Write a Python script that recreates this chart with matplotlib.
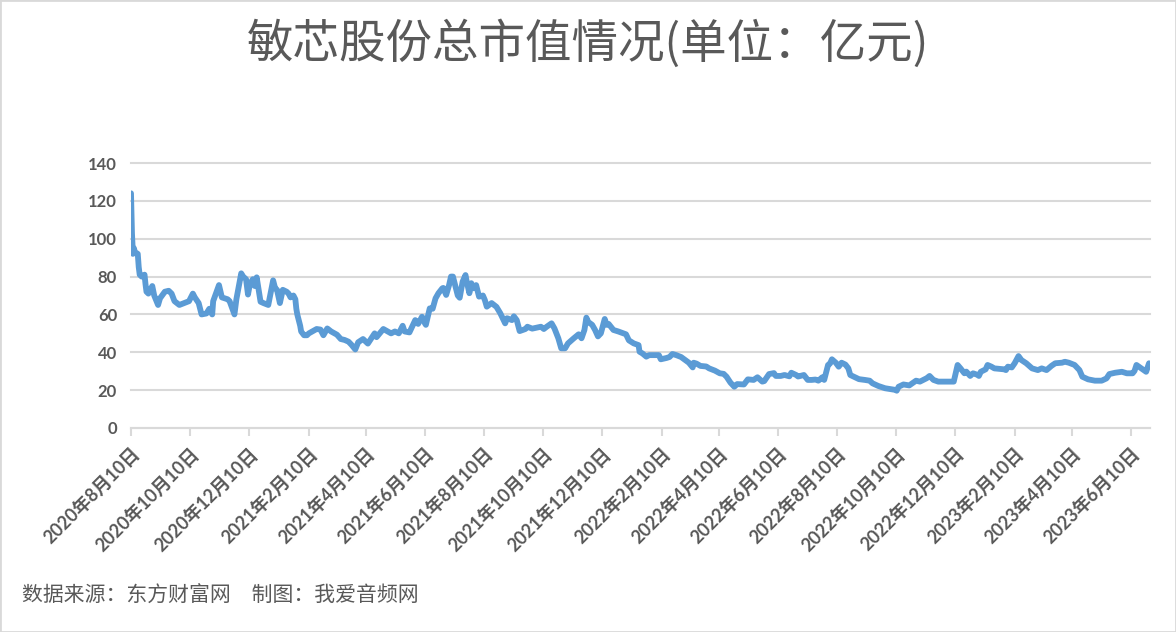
import matplotlib
matplotlib.use("Agg")
import matplotlib.pyplot as plt
from matplotlib.patches import Rectangle
import pandas as pd

plt.rcParams['font.family'] = ['Lato', 'Noto Sans CJK SC', 'DejaVu Sans']

title = "敏芯股份总市值情况(单位：亿元)"
source_note = "数据来源：东方财富网\u3000制图：我爱音频网"

dates = [
    "2020-08-10", "2020-08-11", "2020-08-12", "2020-08-13", "2020-08-14", "2020-08-17",
    "2020-08-18", "2020-08-19", "2020-08-21", "2020-08-24", "2020-08-25", "2020-08-26",
    "2020-08-28", "2020-08-31", "2020-09-01", "2020-09-03", "2020-09-07", "2020-09-09",
    "2020-09-14", "2020-09-18", "2020-09-21", "2020-09-24", "2020-09-29", "2020-10-09",
    "2020-10-12", "2020-10-13", "2020-10-15", "2020-10-19", "2020-10-22", "2020-10-27",
    "2020-10-30", "2020-11-02", "2020-11-03", "2020-11-09", "2020-11-12", "2020-11-18",
    "2020-11-20", "2020-11-25", "2020-11-27", "2020-12-02", "2020-12-04", "2020-12-07",
    "2020-12-09", "2020-12-11", "2020-12-14", "2020-12-16", "2020-12-18", "2020-12-22",
    "2020-12-25", "2020-12-30",
    "2021-01-04", "2021-01-06", "2021-01-08", "2021-01-11", "2021-01-14", "2021-01-18",
    "2021-01-20", "2021-01-22", "2021-01-25", "2021-01-27", "2021-01-28", "2021-01-29",
    "2021-02-01", "2021-02-02", "2021-02-05", "2021-02-08", "2021-02-10", "2021-02-18",
    "2021-02-22", "2021-02-25", "2021-03-01", "2021-03-05", "2021-03-11", "2021-03-15",
    "2021-03-19", "2021-03-23", "2021-03-26", "2021-03-30", "2021-04-02", "2021-04-07",
    "2021-04-12", "2021-04-19", "2021-04-21", "2021-04-28", "2021-05-06", "2021-05-10",
    "2021-05-14", "2021-05-18", "2021-05-20", "2021-05-25", "2021-05-31", "2021-06-03",
    "2021-06-07", "2021-06-10", "2021-06-11", "2021-06-15", "2021-06-18", "2021-06-21",
    "2021-06-24", "2021-06-28", "2021-06-29", "2021-07-02", "2021-07-05", "2021-07-07",
    "2021-07-09", "2021-07-12", "2021-07-14", "2021-07-16", "2021-07-19", "2021-07-22",
    "2021-07-23", "2021-07-26", "2021-07-28", "2021-07-30", "2021-08-02", "2021-08-05",
    "2021-08-09", "2021-08-11", "2021-08-13", "2021-08-18", "2021-08-23", "2021-08-27",
    "2021-09-01", "2021-09-03", "2021-09-08", "2021-09-10", "2021-09-13", "2021-09-16",
    "2021-09-22", "2021-09-24", "2021-09-29", "2021-10-08", "2021-10-11", "2021-10-14",
    "2021-10-19", "2021-10-22", "2021-10-26", "2021-10-29", "2021-11-02", "2021-11-05",
    "2021-11-11", "2021-11-16", "2021-11-19", "2021-11-22", "2021-11-24", "2021-11-26",
    "2021-11-30", "2021-12-03", "2021-12-06", "2021-12-09", "2021-12-13", "2021-12-15",
    "2021-12-17", "2021-12-22", "2021-12-27",
    "2022-01-04", "2022-01-07", "2022-01-12", "2022-01-17", "2022-01-18", "2022-01-21",
    "2022-01-25", "2022-01-28", "2022-02-07", "2022-02-09", "2022-02-15", "2022-02-18",
    "2022-02-21", "2022-02-25", "2022-03-02", "2022-03-07", "2022-03-10", "2022-03-14",
    "2022-03-15", "2022-03-18", "2022-03-22", "2022-03-28", "2022-03-31", "2022-04-06",
    "2022-04-11", "2022-04-15", "2022-04-18", "2022-04-22", "2022-04-26", "2022-04-29",
    "2022-05-06", "2022-05-10", "2022-05-16", "2022-05-20", "2022-05-25", "2022-05-27",
    "2022-06-01", "2022-06-06", "2022-06-08", "2022-06-13", "2022-06-17", "2022-06-22",
    "2022-06-24", "2022-06-29", "2022-07-01", "2022-07-07", "2022-07-11", "2022-07-15",
    "2022-07-19", "2022-07-22", "2022-07-26", "2022-07-28", "2022-08-01", "2022-08-03",
    "2022-08-05", "2022-08-09", "2022-08-12", "2022-08-15", "2022-08-19", "2022-08-22",
    "2022-08-24", "2022-08-29", "2022-09-02", "2022-09-08", "2022-09-13", "2022-09-16",
    "2022-09-22", "2022-09-29", "2022-10-10", "2022-10-11", "2022-10-13", "2022-10-18",
    "2022-10-24", "2022-10-26", "2022-10-31", "2022-11-04", "2022-11-11", "2022-11-14",
    "2022-11-18", "2022-11-23", "2022-11-30", "2022-12-07", "2022-12-09", "2022-12-13",
    "2022-12-16", "2022-12-20", "2022-12-22", "2022-12-26", "2022-12-29",
    "2023-01-03", "2023-01-04", "2023-01-06", "2023-01-11", "2023-01-13", "2023-01-17",
    "2023-01-20", "2023-01-30", "2023-02-01", "2023-02-03", "2023-02-07", "2023-02-10",
    "2023-02-14", "2023-02-17", "2023-02-22", "2023-02-28", "2023-03-06", "2023-03-10",
    "2023-03-15", "2023-03-20", "2023-03-24", "2023-03-31", "2023-04-03", "2023-04-07",
    "2023-04-13", "2023-04-18", "2023-04-21", "2023-04-27", "2023-05-04", "2023-05-11",
    "2023-05-16", "2023-05-19", "2023-05-25", "2023-06-01", "2023-06-06", "2023-06-12",
    "2023-06-14", "2023-06-16", "2023-06-21", "2023-06-26", "2023-06-29",
]

market_cap = [
    124, 103, 92, 95, 93, 92,
    85, 81, 80, 81, 76, 72,
    71, 74, 75, 70, 65, 68.5,
    72, 72.5, 71, 67, 65, 67,
    70, 71, 69, 66, 60, 60.5,
    63, 60, 67, 75.5, 69, 68,
    67, 60, 68, 81.7, 80, 78.6,
    70.5, 76, 78.6, 75, 79.6, 66.7,
    66, 65,
    78, 74, 73, 66, 73, 72,
    71, 69, 70, 68, 63, 60,
    54, 51, 49, 49, 50, 52.3,
    52, 49, 52.6, 51, 49.3, 47,
    46.5, 45.6, 44, 41.5, 45.3, 47,
    44.6, 50, 48, 52.3, 50, 51,
    50, 54, 51, 50.5, 57, 55,
    58.8, 55.3, 54.5, 63.2, 63, 68.5,
    71.2, 73.8, 74, 70.3, 75.5, 80,
    80, 74, 70, 68.8, 77.3, 80.8,
    78, 71.2, 76.5, 73.8, 75.5, 69.4,
    70, 67.6, 64.1, 66, 64, 60.6,
    55.3, 58, 57, 59, 57, 51.2,
    52.3, 53.5, 52.5, 53.5, 52.3, 53.5,
    55.3, 52.6, 47.4, 42.1, 42.1, 44.7,
    47.4, 49.5, 47.4, 51.8, 58.3, 56,
    54.5, 51.8, 48.4, 50, 57.6, 54.5,
    55, 51.8, 51,
    49.5, 46.3, 44.7, 43.8, 40.3, 39.4,
    37.7, 38.5, 38.5, 36.3, 37, 37.5,
    39.1, 38.5, 37.5, 35.6, 34.5, 32,
    34.5, 34, 32.8, 32.5, 31.5, 30.3,
    28.9, 28.6, 27.1, 24, 21.8, 23.2,
    23, 25.7, 25.4, 26.8, 24.5, 24.8,
    28.5, 29, 27.5, 27.5, 28, 27.3,
    29.2, 28, 27.2, 28, 25.4, 25.4,
    25.6, 25, 26.8, 25.4, 33.3, 34,
    36.3, 34.5, 32.4, 34.5, 33.5, 31.5,
    28, 26.8, 25.8, 25.4, 25, 23.6,
    22.2, 21, 20.1, 19.7, 21.8, 23,
    22.5, 23.2, 25, 24.5, 26.3, 27.5,
    25.4, 24.5, 24.5, 24.5, 24.5, 33.3,
    31.5, 28.9, 29.8, 27.5, 28.9,
    28, 27.5, 29.7, 31, 33.3, 32.4,
    31.5, 31, 30.6, 32.4, 32, 34.2,
    38, 35.9, 34.2, 31.5, 30.6, 31.5,
    30.6, 32.8, 34.2, 34.5, 35, 34.5,
    33.3, 30.6, 27.1, 25.7, 25, 25,
    26.2, 28.5, 29.2, 29.7, 28.9, 28.9,
    30.2, 33.3, 31.5, 29.7, 34.2,
]

tick_dates = [
    "2020-08-10", "2020-10-10", "2020-12-10", "2021-02-10", "2021-04-10", "2021-06-10",
    "2021-08-10", "2021-10-10", "2021-12-10", "2022-02-10", "2022-04-10", "2022-06-10",
    "2022-08-10", "2022-10-10", "2022-12-10", "2023-02-10", "2023-04-10", "2023-06-10",
]
y_ticks = [0, 20, 40, 60, 80, 100, 120, 140]

x = pd.to_datetime(dates)
ticks = pd.to_datetime(tick_dates)
tick_labels = [f"{d.year}年{d.month}月{d.day}日" for d in ticks]

W, H = 1176, 632
fig = plt.figure(figsize=(W / 100, H / 100), dpi=100)
fig.patch.set_facecolor("white")

left, right, top, bottom = 131, 1150, 163, 428
ax = fig.add_axes([left / W, 1 - bottom / H, (right - left) / W, (bottom - top) / H])

grid_c = "#D9D9D9"
text_c = "#595959"

ax.plot(x, market_cap, color="#5B9BD5", lw=4.2, solid_joinstyle="round",
        solid_capstyle="round", zorder=3)

ax.set_ylim(0, 140)
ax.set_xlim(pd.Timestamp("2020-08-10"), pd.Timestamp("2023-06-30"))
ax.set_yticks(y_ticks)
ax.set_yticklabels([str(v) for v in y_ticks], fontsize=12, fontweight="bold", color=text_c)
ax.yaxis.grid(True, color=grid_c, lw=1.5)
for gl in ax.get_ygridlines():
    gl.set_clip_on(False)
ax.set_axisbelow(True)

ax.set_xticks(ticks)
ax.set_xticklabels(tick_labels, rotation=45, ha="right", va="top",
                   rotation_mode="anchor", fontsize=13, fontweight="bold", color=text_c)

for s in ["top", "right", "left"]:
    ax.spines[s].set_visible(False)
ax.spines["bottom"].set_color(grid_c)
ax.spines["bottom"].set_linewidth(1.5)

ax.tick_params(axis="y", length=0, pad=10)
ax.tick_params(axis="x", length=6, width=1.5, color=grid_c, direction="out", pad=6)

fig.text(0.4996, 1 - 45 / H, title, ha="center", va="center", fontsize=33.5,
         color=text_c, family=["Noto Sans CJK SC", "DejaVu Sans"])
fig.text(22 / W, 1 - 596 / H, source_note, ha="left", va="center", fontsize=15,
         color=text_c, family=["Noto Sans CJK SC", "DejaVu Sans"])

fig.patches.append(Rectangle((0, 0), 1, 1, transform=fig.transFigure, fill=False,
                             edgecolor=grid_c, lw=2))

fig.savefig("out.png", dpi=100, facecolor="white")
